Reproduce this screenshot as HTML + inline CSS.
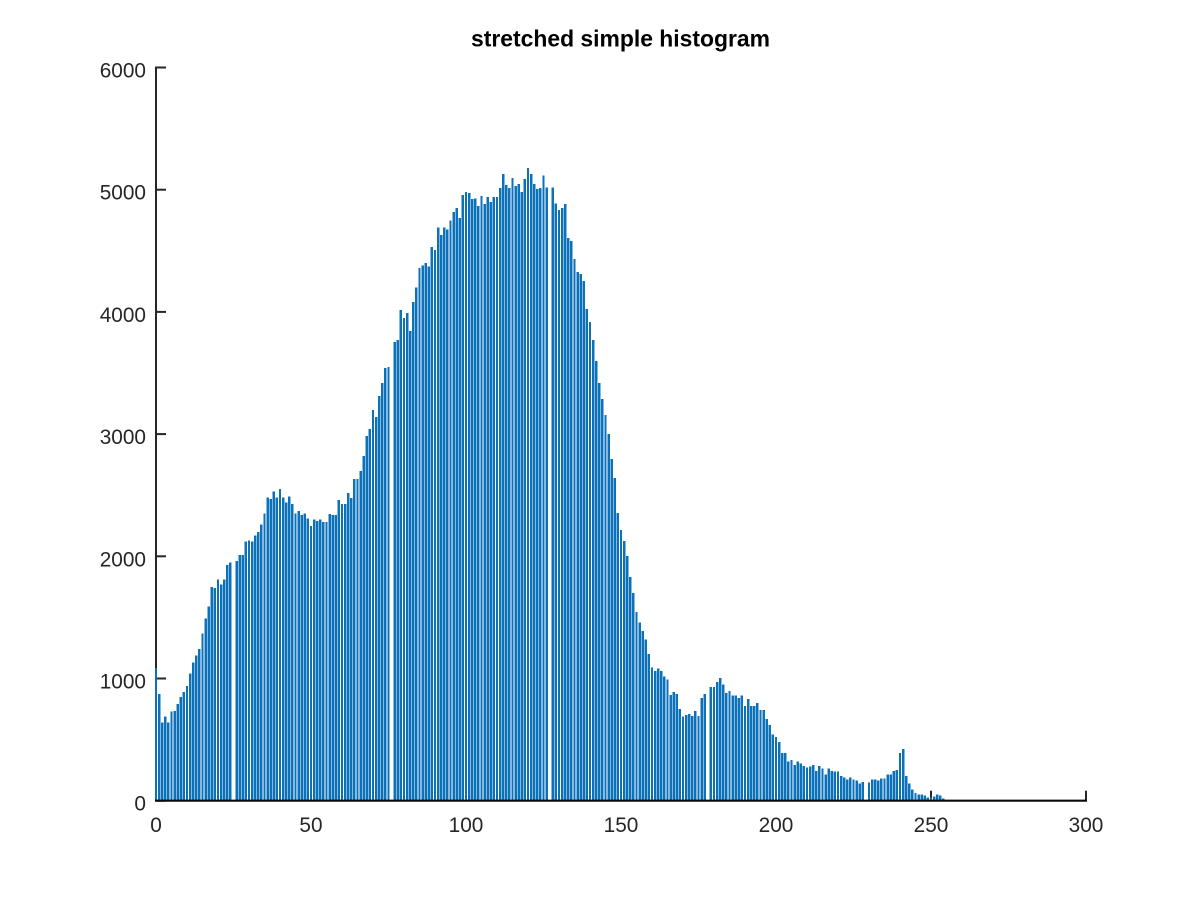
<!DOCTYPE html>
<html lang="en">
<head>
<meta charset="utf-8">
<title>stretched simple histogram</title>
<style>
  html, body { margin: 0; padding: 0; background: #fff; }
  svg { display: block; }
  text { font-family: "Liberation Sans", sans-serif; }
</style>
</head>
<body>
<svg id="chart" xmlns="http://www.w3.org/2000/svg" width="1200" height="900" viewBox="0 0 1200 900">
  <rect x="0" y="0" width="1200" height="900" fill="#ffffff"/>
  <text x="620.5" y="46.5" text-anchor="middle" font-size="22.9" font-weight="bold" fill="#000000">stretched simple histogram</text>
  <g id="axes"></g>
  <g id="bars" shape-rendering="crispEdges"></g>
  <g id="baseline"></g>
</svg>
<script>
const counts = [
1087,875,640,690,640,730,735,790,850,890,
940,1040,1130,1190,1240,1370,1490,1590,1750,1740,
1810,1770,1810,1930,1950,0,1960,2010,2010,2120,
2130,2120,2170,2200,2260,2350,2480,2470,2530,2480,
2550,2480,2440,2490,2430,2350,2370,2340,2350,2310,
2250,2300,2290,2300,2280,2280,2347,2338,2338,2461,
2428,2428,2518,2477,2633,2633,2698,2821,2984,3042,
3197,3140,3312,3418,3540,3549,0,3753,3769,4015,
3949,3990,3843,4080,4200,4358,4380,4400,4370,4533,
4505,4690,4628,4690,4674,4750,4816,4849,4767,4955,
4980,4971,4922,4930,4865,4947,4881,4939,4898,4939,
4939,5012,5127,5037,5012,5094,5029,5045,4980,5086,
5176,5127,5045,5004,5012,5118,5020,0,5020,4889,
4832,4849,4881,4603,4579,4432,4325,4309,4252,4023,
3916,3769,3598,3418,3287,3156,3001,2796,2641,2355,
2216,2126,2003,1832,1700,1545,1460,1390,1320,1200,
1090,1060,1080,1063,1016,990,867,891,875,752,
687,703,711,695,736,695,842,875,0,932,
932,973,1006,949,883,899,859,859,842,859,
777,834,777,777,801,744,744,670,621,540,
523,482,392,392,319,335,294,319,303,286,
270,278,294,245,286,262,213,262,245,237,
237,204,188,172,188,172,164,139,155,0,
147,172,172,164,180,180,213,213,245,253,
392,425,204,139,90,65,49,49,41,25,
25,33,49,41,16,5
];
const xTickValues = [0, 50, 100, 150, 200, 250, 300];
const yTickValues = [0, 1000, 2000, 3000, 4000, 5000, 6000];

const SVG_NS = 'http://www.w3.org/2000/svg';
const plot = { left: 156, right: 1086, top: 67.5, bottom: 800.7 };
const xDomain = [0, 300];
const yDomain = [0, 6000];
const barFraction = 0.8;
const tickLength = 10;
const axisColor = '#262626';

function xScale(v) {
  return plot.left + (v - xDomain[0]) / (xDomain[1] - xDomain[0]) * (plot.right - plot.left);
}
function yScale(v) {
  return plot.bottom - (v - yDomain[0]) / (yDomain[1] - yDomain[0]) * (plot.bottom - plot.top);
}
function line(x1, y1, x2, y2, width, color) {
  const el = document.createElementNS(SVG_NS, 'line');
  el.setAttribute('x1', x1);
  el.setAttribute('y1', y1);
  el.setAttribute('x2', x2);
  el.setAttribute('y2', y2);
  el.setAttribute('stroke', color);
  el.setAttribute('stroke-width', width);
  return el;
}
function label(x, y, anchor, content) {
  const el = document.createElementNS(SVG_NS, 'text');
  el.setAttribute('x', x);
  el.setAttribute('y', y);
  el.setAttribute('text-anchor', anchor);
  el.setAttribute('font-size', '20.8');
  el.setAttribute('fill', axisColor);
  el.textContent = content;
  return el;
}

const axes = document.getElementById('axes');
const barsGroup = document.getElementById('bars');
const baselineGroup = document.getElementById('baseline');

const yAxis = line(plot.left, plot.top - 1, plot.left, plot.bottom, 2, axisColor);


axes.appendChild(yAxis);

yTickValues.forEach(function (v) {
  const y = yScale(v);
  const tick = line(plot.left, y, plot.left + tickLength, y, 2, axisColor);
  
  
  axes.appendChild(tick);
  const text = label(146, y + 10, 'end', String(v));
  
  
  axes.appendChild(text);
});

xTickValues.forEach(function (v) {
  const x = xScale(v);
  const tick = line(x, plot.bottom, x, plot.bottom - tickLength, 2, axisColor);
  
  
  axes.appendChild(tick);
  const text = label(x, 832, 'middle', String(v));
  
  
  axes.appendChild(text);
});

const barWidth = (xScale(1) - xScale(0)) * barFraction;
counts.forEach(function (v, i) {
  if (v <= 0) return;
  const bar = document.createElementNS(SVG_NS, 'rect');
  
  
  bar.setAttribute('x', xScale(i) - barWidth / 2);
  bar.setAttribute('y', yScale(v));
  bar.setAttribute('width', barWidth);
  bar.setAttribute('height', yScale(0) - yScale(v));
  bar.setAttribute('fill', '#0b71b8');
  barsGroup.appendChild(bar);
});

const xAxis = line(plot.left - 1, plot.bottom, plot.right + 1, plot.bottom, 2.2, '#0a0a0a');


baselineGroup.appendChild(xAxis);
</script>
</body>
</html>
